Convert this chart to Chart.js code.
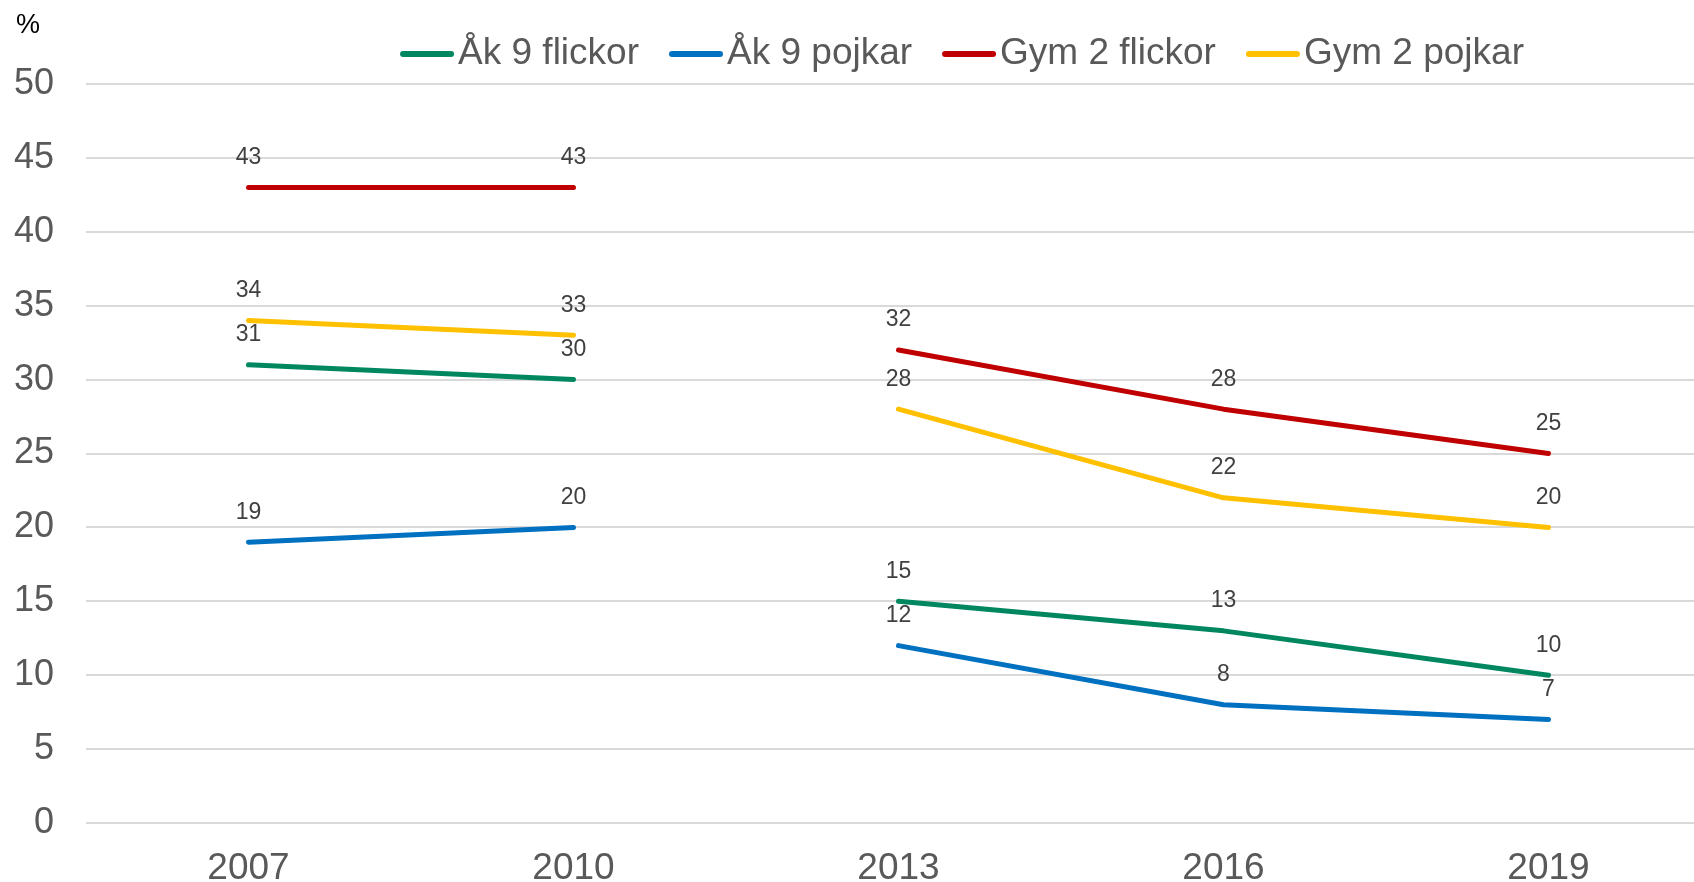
<!DOCTYPE html>
<html>
<head>
<meta charset="utf-8">
<script src="https://cdn.jsdelivr.net/npm/chart.js@4/dist/chart.umd.min.js"></script>
<style>
  html, body { margin: 0; padding: 0; background: #fff; overflow: hidden; }
  #wrap { width: 1712px; height: 882px; }
</style>
</head>
<body>
<div id="wrap"><canvas id="chart"></canvas></div>
<script>
// 年度と各グループの値
const years = ['2007', '2010', '2013', '2016', '2019'];
const ak9Flickor = [31, 30, 15, 13, 10];
const ak9Pojkar = [19, 20, 12, 8, 7];
const gym2Flickor = [43, 43, 32, 28, 25];
const gym2Pojkar = [34, 33, 28, 22, 20];
const yTicks = [0, 5, 10, 15, 20, 25, 30, 35, 40, 45, 50];
// 2010 と 2013 の間は線をつながない
const breakAfter = '2010';

const FONT = '"Liberation Sans", Arial, sans-serif';
const GREY = '#595959';

function makeSet(label, data, color) {
  return {
    label: label,
    data: data,
    borderColor: color,
    backgroundColor: color,
    borderWidth: 5,
    borderCapStyle: 'round',
    borderJoinStyle: 'round',
    pointRadius: 0,
    pointHoverRadius: 0,
    tension: 0,
    segment: {
      borderColor: (c) => years[c.p0DataIndex] === breakAfter ? 'rgba(0,0,0,0)' : undefined
    }
  };
}

// 値ラベル、凡例、% の描画
const extras = {
  id: 'extras',
  afterDatasetsDraw(chart) {
    const ctx = chart.ctx;
    ctx.save();
    ctx.font = '23px ' + FONT;
    ctx.fillStyle = '#404040';
    ctx.textAlign = 'center';
    ctx.textBaseline = 'middle';
    chart.data.datasets.forEach((ds, i) => {
      chart.getDatasetMeta(i).data.forEach((pt, j) => {
        ctx.fillText(String(ds.data[j]), pt.x, pt.y - 30);
      });
    });

    // %
    ctx.font = '27px ' + FONT;
    ctx.fillStyle = '#000';
    ctx.fillText('%', 28, 26);

    // 凡例
    ctx.font = '37px ' + FONT;
    const sym = 54, gapIn = 4, gapOut = 30;
    const items = chart.data.datasets.map(ds => ({
      label: ds.label, color: ds.borderColor, w: ctx.measureText(ds.label).width
    }));
    const total = items.reduce((s, it) => s + sym + gapIn + it.w, 0) + gapOut * (items.length - 1);
    let x = 962 - total / 2;
    const y = 54;
    ctx.textAlign = 'left';
    items.forEach(it => {
      ctx.strokeStyle = it.color;
      ctx.lineWidth = 6;
      ctx.lineCap = 'round';
      ctx.beginPath();
      ctx.moveTo(x + 3, y);
      ctx.lineTo(x + sym - 3, y);
      ctx.stroke();
      x += sym + gapIn;
      ctx.fillStyle = GREY;
      ctx.fillText(it.label, x, y);
      x += it.w + gapOut;
    });
    ctx.restore();
  }
};

new Chart(document.getElementById('chart'), {
  type: 'line',
  data: {
    labels: years,
    datasets: [
      makeSet('Åk 9 flickor', ak9Flickor, '#00875F'),
      makeSet('Åk 9 pojkar', ak9Pojkar, '#0070C0'),
      makeSet('Gym 2 flickor', gym2Flickor, '#C00000'),
      makeSet('Gym 2 pojkar', gym2Pojkar, '#FFC000')
    ]
  },
  options: {
    responsive: true,
    maintainAspectRatio: false,
    animation: false,
    layout: { padding: { top: 84, right: 1, left: 0, bottom: 0 } },
    plugins: {
      legend: { display: false },
      tooltip: { enabled: false }
    },
    scales: {
      x: {
        offset: true,
        grid: { display: false },
        border: { display: false },
        ticks: { color: GREY, font: { family: FONT, size: 37 }, padding: 16 },
        afterFit: (s) => { s.height = 59; }
      },
      y: {
        min: 0,
        max: 50,
        afterBuildTicks: (s) => { s.ticks = yTicks.map(v => ({ value: v })); },
        grid: { color: '#d9d9d9', lineWidth: 2, drawTicks: false },
        border: { display: false },
        ticks: { color: GREY, font: { family: FONT, size: 36 }, padding: 32 },
        afterFit: (s) => { s.width = 86; }
      }
    }
  },
  plugins: [extras]
});
</script>
</body>
</html>
